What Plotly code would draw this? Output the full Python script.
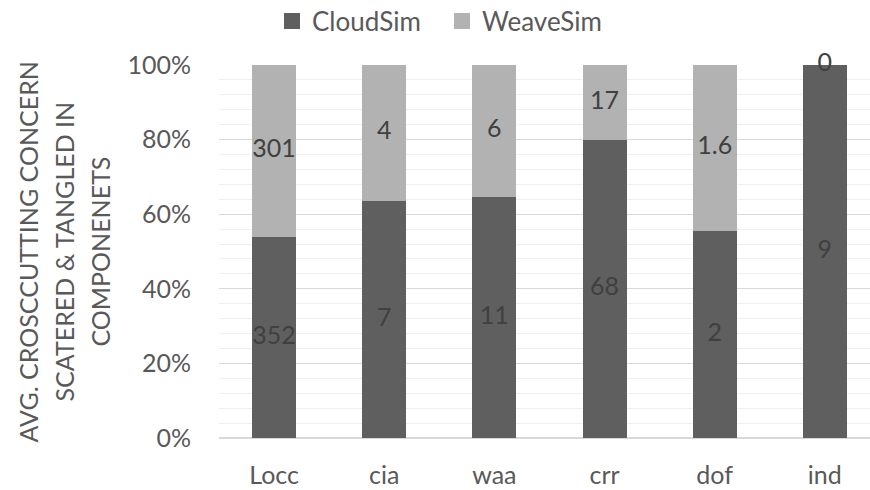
import plotly.graph_objects as go

categories = ["Locc", "cia", "waa", "crr", "dof", "ind"]
cloudsim = [352, 7, 11, 68, 2, 9]
weavesim = [301, 4, 6, 17, 1.6, 0]
cloud_labels = ["352", "7", "11", "68", "2", "9"]
weave_labels = ["301", "4", "6", "17", "1.6", "0"]
y_ticks = [0, 20, 40, 60, 80, 100]
y_tick_labels = ["0%", "20%", "40%", "60%", "80%", "100%"]
title_lines = ["AVG. CROSCCUTTING CONCERN", "SCATERED & TANGLED IN", "COMPONENETS"]

FONT = "Lato"
DARK = "#5f5f5f"
LIGHT = "#b2b2b2"
TXT = "#595959"
LBL = "#404040"

totals = [c + w for c, w in zip(cloudsim, weavesim)]
cloud_pct = [100 * c / t for c, t in zip(cloudsim, totals)]
weave_pct = [100 * w / t for w, t in zip(weavesim, totals)]

fig = go.Figure()
fig.add_bar(x=categories, y=cloud_pct, name="CloudSim", marker_color=DARK,
            marker_line_width=0, hoverinfo="skip", showlegend=False)
fig.add_bar(x=categories, y=weave_pct, name="WeaveSim", marker_color=LIGHT,
            marker_line_width=0, hoverinfo="skip", showlegend=False)

# legend entries with larger square swatches
for nm, col in [("CloudSim", DARK), ("WeaveSim", LIGHT)]:
    fig.add_scatter(x=[None], y=[None], mode="markers", name=nm,
                    marker=dict(symbol="square", size=16, color=col))

# data labels centred in each segment
fig.add_scatter(x=categories, y=[p / 2 for p in cloud_pct], mode="text",
                text=cloud_labels, textfont=dict(family=FONT, size=25, color=LBL),
                showlegend=False, hoverinfo="skip", cliponaxis=False)
fig.add_scatter(x=categories, y=[c + w / 2 for c, w in zip(cloud_pct, weave_pct)],
                mode="text", text=weave_labels,
                textfont=dict(family=FONT, size=25, color=LBL),
                showlegend=False, hoverinfo="skip", cliponaxis=False)

title_x = [-0.2934, -0.2381, -0.1843]
annots = [dict(text=t, xref="paper", yref="paper", x=x, y=0.5, xanchor="center",
               yanchor="middle", textangle=-90, showarrow=False,
               font=dict(family=FONT, size=25, color=TXT))
          for t, x in zip(title_lines, title_x)]

fig.update_layout(
    width=870, height=490,
    margin=dict(l=219, r=0, t=65, b=52),
    barmode="stack", bargap=0.6,
    plot_bgcolor="white", paper_bgcolor="white",
    font=dict(family=FONT, color=TXT),
    legend=dict(orientation="h", xref="container", yref="container",
                x=272 / 870, xanchor="left", y=1 - 21 / 490, yanchor="middle",
                font=dict(family=FONT, size=26, color=TXT),
                traceorder="normal", entrywidth=125, entrywidthmode="pixels",
                itemwidth=30),
    xaxis=dict(range=[-0.5, 5.41], showgrid=False, showline=False, ticks="",
               tickfont=dict(family=FONT, size=25, color=TXT), ticklabelstandoff=20,
               fixedrange=True),
    yaxis=dict(range=[0, 100], tickmode="array", tickvals=y_ticks, ticktext=y_tick_labels,
               tickfont=dict(family=FONT, size=25, color=TXT),
               showgrid=True, gridcolor="#d9d9d9", gridwidth=1,
               zeroline=True, zerolinecolor="#d9d9d9",
               minor=dict(dtick=4, showgrid=True, gridcolor="#efefef", gridwidth=1),
               ticklabelstandoff=27, showline=False, fixedrange=True),
    annotations=annots,
)

fig.write_html("out.html", config={"displayModeBar": False},
               post_script="document.body.style.margin='0';")
